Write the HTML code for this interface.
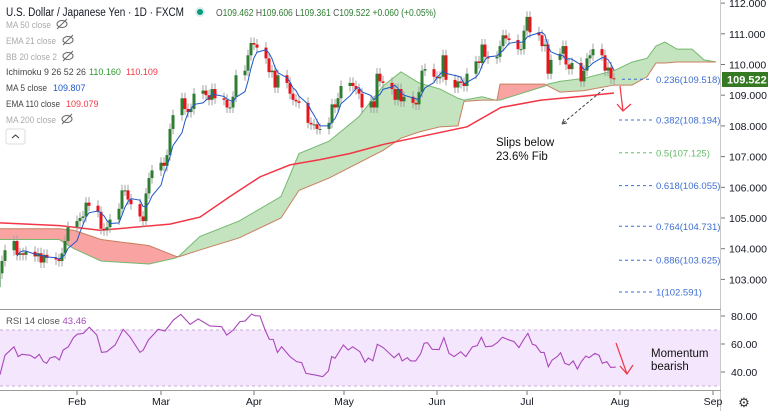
<!DOCTYPE html>
<html><head><meta charset="utf-8"><style>
body{margin:0;background:#fff;font-family:"Liberation Sans",sans-serif}
svg{display:block}
text{font-family:"Liberation Sans",sans-serif}
</style></head><body>
<svg id="c" width="768" height="411" viewBox="0 0 768 411">
<g id="cloud"></g>
<g id="ema"></g>
<g id="candles"></g>
<g id="ma5"></g>
<g id="axes"></g>
<g id="rsi"></g>
<g id="fib"></g>
<g id="notes">
<text x="496" y="146" font-size="11.5" fill="#111">Slips below</text>
<text x="496" y="160" font-size="11.5" fill="#111">23.6% Fib</text>
<line x1="604" y1="89" x2="562" y2="124" stroke="#444" stroke-dasharray="3,2"/>
<path d="M562,124 l2,-5 M562,124 l5,-1" stroke="#444" fill="none"/>
<path d="M620,86 L623,111 M617,104 L623,111 L631,104" stroke="#f23645" stroke-width="1.2" fill="none"/>
<path d="M616,343 L627,374 M620,366 L627,374 L633,365" stroke="#f23645" stroke-width="1.2" fill="none"/>
<text x="651" y="357" font-size="11.5" fill="#111">Momentum</text>
<text x="651" y="370" font-size="11.5" fill="#111">bearish</text>
</g>
<g id="legend">
<text x="6" y="16" font-size="11.5" fill="#131722" textLength="178" lengthAdjust="spacingAndGlyphs">U.S. Dollar / Japanese Yen · 1D · FXCM</text>
<circle cx="200" cy="12" r="5" fill="#d8f0ec"/>
<circle cx="200" cy="12" r="3" fill="#089981"/>
<text x="216" y="16" font-size="10" fill="#2e7d32" textLength="220" lengthAdjust="spacingAndGlyphs"><tspan fill="#555">O</tspan>109.462 <tspan fill="#555">H</tspan>109.606 <tspan fill="#555">L</tspan>109.361 <tspan fill="#555">C</tspan>109.522 +0.060 (+0.05%)</text>
<text x="6" y="28" font-size="9" fill="#aaa" textLength="45" lengthAdjust="spacingAndGlyphs">MA 50 close</text>
<text x="6" y="44" font-size="9" fill="#aaa" textLength="50" lengthAdjust="spacingAndGlyphs">EMA 21 close</text>
<text x="6" y="60" font-size="9" fill="#aaa" textLength="51" lengthAdjust="spacingAndGlyphs">BB 20 close 2</text>
<text x="6" y="75" font-size="9" fill="#444"><tspan textLength="80" lengthAdjust="spacingAndGlyphs">Ichimoku 9 26 52 26</tspan><tspan x="89" fill="#2e9a2e">110.160</tspan><tspan x="126" fill="#f23645">110.109</tspan></text>
<text x="6" y="91" font-size="9" fill="#444"><tspan textLength="41" lengthAdjust="spacingAndGlyphs">MA 5 close</tspan><tspan x="53" fill="#1e56c8">109.807</tspan></text>
<text x="6" y="107" font-size="9" fill="#444"><tspan textLength="54" lengthAdjust="spacingAndGlyphs">EMA 110 close</tspan><tspan x="66" fill="#f23645">109.079</tspan></text>
<text x="6" y="123" font-size="9" fill="#aaa" textLength="50" lengthAdjust="spacingAndGlyphs">MA 200 close</text>
<g stroke="#666" fill="none" stroke-width="1">
<ellipse cx="62" cy="24" rx="5" ry="3.5"/><line x1="57" y1="29" x2="67" y2="19"/>
<ellipse cx="68" cy="40" rx="5" ry="3.5"/><line x1="63" y1="45" x2="73" y2="35"/>
<ellipse cx="68" cy="56" rx="5" ry="3.5"/><line x1="63" y1="61" x2="73" y2="51"/>
<ellipse cx="67" cy="119" rx="5" ry="3.5"/><line x1="62" y1="124" x2="72" y2="114"/>
</g>
<rect x="6" y="129" width="19" height="15" rx="2" fill="#fff" stroke="#ddd"/>
<path d="M12,138 l3.5,-3 l3.5,3" stroke="#333" fill="none"/>
</g>
</svg>
<script>
const months=["Feb","Mar","Apr","May","Jun","Jul","Aug","Sep"];
const monthDays=[31,59,90,120,151,181,212,243];
const priceTicks=[103,104,105,106,107,108,109,110,111,112];
const rsiTicks=[40,60,80];
const firstOpen=102.75;
const closes=[103.2,103.6,103.95,104.25,103.8,103.85,103.8,103.9,103.75,103.85,103.55,103.8,103.7,103.65,103.6,103.85,104.25,104.7,
104.9,105.0,105.05,105.5,105.4,105.2,104.65,104.6,104.7,104.95,105.3,105.9,105.9,105.6,105.45,105.05,104.9,105.8,106.3,106.55,
106.8,106.7,107.05,107.9,108.35,108.9,108.55,108.45,108.55,109.05,109.15,109.0,108.85,109.2,108.9,108.85,108.6,108.6,108.95,109.65,109.8,110.3,110.7,
110.65,110.55,110.2,109.75,109.8,109.25,109.65,109.4,109.05,108.85,108.8,108.75,108.1,108.05,108.05,107.9,107.9,108.1,108.7,108.6,108.9,109.3,
109.4,109.3,109.2,109.05,108.6,108.8,108.6,109.7,109.45,109.4,109.2,108.85,109.2,108.8,108.95,108.75,108.7,109.1,109.8,109.85,109.6,
109.55,109.6,110.3,109.5,109.25,109.45,109.4,109.3,109.7,110.1,110.05,110.65,110.25,110.2,110.25,110.6,110.95,110.85,110.8,110.5,110.5,111.1,
111.55,111.05,110.95,110.6,110.65,109.7,110.15,110.35,110.6,110.0,109.85,110.05,109.45,109.8,110.2,110.3,110.5,110.3,109.8,109.9,109.55,109.522];
const emaDays=[5.3,25.3,38.7,62,72,82,92,102,112,122,133.3,161,172.3,185.7,200,210];
const emaVals=[104.84,104.75,104.6,104.8,105.03,105.7,106.34,106.73,106.9,107.1,107.4,107.97,108.6,108.84,108.97,109.07];
const cloudDays=[5,25,30,39,55,64,65,72,85,99,105,115,125,133,139,145,152,158,160,166,170,171,172,187,188,192,200,210,216,221,224,227,231,236,240,244];
const spanA=[104.3,104.3,104.0,103.6,103.5,103.7,103.76,104.4,104.9,105.7,107.1,107.5,108.3,109.3,109.76,109.4,109.2,108.9,108.84,108.95,108.85,108.84,108.84,109.3,109.36,109.45,109.55,109.8,110.08,110.2,110.6,110.73,110.5,110.5,110.15,110.08];
const spanB=[104.65,104.65,104.6,104.3,104.1,103.75,103.74,103.96,104.35,105.0,105.9,106.3,106.8,107.2,107.6,107.8,107.97,108.0,108.8,108.84,108.84,108.84,109.36,109.36,109.3,109.1,109.15,109.33,109.33,109.6,110.05,110.05,110.08,110.08,110.08,110.08];
const rsiDays=[5.3,7,10,11.4,12.6,15.3,17,18.4,19.8,20.9,22,23.7,25.1,26.4,28.1,29.8,31.1,33.1,35.1,37.6,39.2,40.9,43.7,46.4,48.7,52,53.1,54.8,58.1,60.3,63.1,65.6,68.7,71.4,75.3,79.2,80.9,83.1,85.3,87,89.2,90.3,92,93.7,95.1,96.4,97.8,99.2,102,104.2,105.9,107.3,110.3,112.9,114.8,115.9,117,119.8,121.4,122.9,125.3,127,128.1,129.6,131.1,133.1,136.7,138.3,139.4,141.1,142.2,143.9,145.6,146.7,147.8,149.4,151.7,153.3,155,156.7,158.9,160.6,162.8,164.4,165.8,167.2,169.4,171.1,172.8,175,176.7,178.3,179.8,181.3,182.8,183.9,185.6,186.7,188.1,189.4,191.1,192.2,193.6,195,196.4,197.8,199.1,200.6,201.7,203.6,205,206.1,207.6,208.9,210.6];
const rsiVals=[38,52,58,51,52.6,52,49.8,52.6,47.4,46.2,50,51,48.6,55.7,58,64.5,67,67.6,72,66.4,54,54.5,59.3,70.5,65,54,55.7,62.9,70.5,69.3,77,81.2,74,77.9,72.9,72.4,66.4,70,76,76.4,81.4,80.2,80,70,63.3,63.3,54,58,51,47.4,46.7,39,37.9,36.7,40.7,51,49.8,59.3,55.7,58,54.5,47,50,48,59.8,57.4,50.2,53.3,47.9,50.2,47.9,47.9,53.3,60.5,61,56.2,56,64.5,53.3,51,54.5,51,58,58.8,64.8,58,58.5,61,64.8,62.9,61.7,57.4,62.9,67.6,59.8,59,54,54,43.8,48.6,51,53.8,46.2,45,47.9,42.1,47.4,51.4,50.2,53.3,52,46.2,47.4,43.3,43.5];
const fibRatios=["0.236","0.382","0.5","0.618","0.764","0.886","1"];
const fibPrices=[109.518,108.194,107.125,106.055,104.731,103.625,102.591];

const NS="http://www.w3.org/2000/svg";
const X=d=>77+(d-31)*(620-77)/(212-31);
const Y=p=>64.5+(110-p)*30.7;
const RY=v=>316+(80-v)*1.4;
function mk(tag,attrs,parent){const e=document.createElementNS(NS,tag);for(const k in attrs)e.setAttribute(k,attrs[k]);parent.appendChild(e);return e;}
const $=id=>document.getElementById(id);

const days=[];let d=5;while(days.length<closes.length){const wd=(5+d)%7;if(wd!==0&&wd!==6)days.push(d);d++;}

const cl=$('cloud');
for(let i=0;i<cloudDays.length-1;i++){
  const x1=X(cloudDays[i]),x2=X(cloudDays[i+1]);
  const g=(spanA[i]+spanA[i+1])>=(spanB[i]+spanB[i+1]);
  const p=mk('polygon',{points:`${x1},${Y(spanA[i])} ${x2},${Y(spanA[i+1])} ${x2},${Y(spanB[i+1])} ${x1},${Y(spanB[i])}`,fill:g?'#c4e3bf':'#f9a3a3',stroke:g?'#c4e3bf':'#f9a3a3','stroke-width':0.5},cl);
  
  
}
const la=mk('polyline',{points:cloudDays.map((c,i)=>X(c)+','+Y(spanA[i])).join(' '),fill:'none',stroke:'#74b96f','stroke-width':1},cl);


const lb=mk('polyline',{points:cloudDays.map((c,i)=>X(c)+','+Y(spanB[i])).join(' '),fill:'none',stroke:'#c98060','stroke-width':1},cl);



const em=mk('polyline',{points:emaDays.map((c,i)=>X(c)+','+Y(emaVals[i])).join(' '),fill:'none',stroke:'#f23645','stroke-width':1.5},$('ema'));



const cg=$('candles');const wick=0.18;
closes.forEach((c,i)=>{
  const o=i?closes[i-1]:firstOpen;const x=X(days[i]);
  const hi=Math.max(o,c)+wick,lo=Math.min(o,c)-wick;
  const up=c>=o;
  const w=mk('line',{x1:x,x2:x,y1:Y(hi),y2:Y(lo),stroke:'#a0a0a0','stroke-width':1},cg);
  
  
  const top=Y(Math.max(o,c)),bot=Y(Math.min(o,c));
  const r=mk('rect',{x:x-1.5,y:top,width:3,height:Math.max(1,bot-top),fill:up?'#2e7d32':'#e8141c'},cg);
  
  
});

const pts=[];for(let i=4;i<closes.length;i++){let s=0;for(let j=i-4;j<=i;j++)s+=closes[j];pts.push(X(days[i])+','+Y(s/5));}
const m5=mk('polyline',{points:pts.join(' '),fill:'none',stroke:'#1e56c8','stroke-width':1},$('ma5'));



const ax=$('axes');
mk('line',{x1:720.5,x2:720.5,y1:0,y2:411,stroke:'#c8c8c8'},ax);
mk('line',{x1:0,x2:721,y1:309.5,y2:309.5,stroke:'#9a9a9a'},ax);
mk('line',{x1:0,x2:721,y1:390.5,y2:390.5,stroke:'#9a9a9a'},ax);
priceTicks.forEach(p=>{
  mk('line',{x1:721,x2:725,y1:Y(p),y2:Y(p),stroke:'#777'},ax);
  const t=mk('text',{x:729,y:Y(p)+4,'font-size':10.5,fill:'#131722'},ax);t.textContent=p.toFixed(3);
  
  
});
rsiTicks.forEach(v=>{
  mk('line',{x1:721,x2:725,y1:RY(v),y2:RY(v),stroke:'#777'},ax);
  const t=mk('text',{x:731,y:RY(v)+4,'font-size':10.5,fill:'#131722'},ax);t.textContent=v.toFixed(2);
  
  
});
months.forEach((m,i)=>{
  const x=X(monthDays[i]);
  mk('line',{x1:x,x2:x,y1:391,y2:395,stroke:'#777'},ax);
  const t=mk('text',{x:x,y:405,'font-size':10.5,fill:'#131722','text-anchor':'middle'},ax);t.textContent=m;
  
  
});
const gear=mk('text',{x:744,y:407,'font-size':13,fill:'#333','text-anchor':'middle'},ax);gear.textContent='⚙';


const pb=mk('rect',{x:722,y:72,width:46,height:15,fill:'#357a22'},ax);


const pt=mk('text',{x:727,y:83.5,'font-size':11,'font-weight':'bold',fill:'#fff'},ax);pt.textContent=closes[closes.length-1].toFixed(3);



const rg=$('rsi');
const band=mk('rect',{x:0,y:RY(70),width:720,height:RY(30)-RY(70),fill:'#f4e6fd'},rg);


[70,30].forEach(v=>mk('line',{x1:0,x2:720,y1:RY(v),y2:RY(v),stroke:'#c9a9d9','stroke-dasharray':'3,3'},rg));
const rl=mk('polyline',{points:rsiDays.map((c,i)=>X(c)+','+RY(rsiVals[i])).join(' '),fill:'none',stroke:'#ab47bc','stroke-width':1.1},rg);


const rt=mk('text',{x:6,y:324,'font-size':9.5,fill:'#555'},rg);rt.innerHTML='RSI 14 close <tspan fill="#ab47bc">43.46</tspan>';



const fg=$('fib');
fibRatios.forEach((r,i)=>{
  const y=Y(fibPrices[i]);const col=r==='0.5'?'#66bb6a':'#3f6fd0';
  const l=mk('line',{x1:i===0?622:619,x2:652,y1:y,y2:y,stroke:col,'stroke-dasharray':'3,3'},fg);
  
  
  const t=mk('text',{x:656,y:y+3.5,'font-size':9.5,fill:col},fg);t.textContent=r+'('+fibPrices[i].toFixed(3)+')';
  
  
});
</script>
</body></html>
